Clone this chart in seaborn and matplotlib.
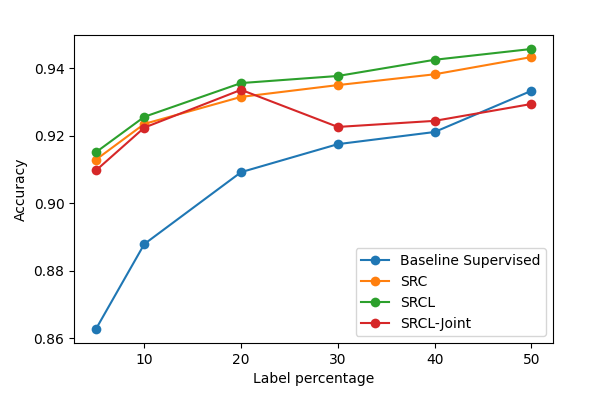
import pandas as pd
import numpy as np
import matplotlib
matplotlib.use('Agg')
import matplotlib.pyplot as plt
import seaborn as sns

label_pct = [5, 10, 20, 30, 40, 50]
baseline = [0.8627, 0.8879, 0.9092, 0.9175, 0.9211, 0.9333]
src = [0.9129, 0.9235, 0.9315, 0.9350, 0.9382, 0.9433]
srcl = [0.9151, 0.9256, 0.9356, 0.9377, 0.9425, 0.9457]
srcl_joint = [0.9097, 0.9224, 0.9336, 0.9226, 0.9244, 0.9294]
methods = ['Baseline Supervised', 'SRC', 'SRCL', 'SRCL-Joint']

df = pd.DataFrame({
    'Label percentage': label_pct * 4,
    'Accuracy': baseline + src + srcl + srcl_joint,
    'method': np.repeat(methods, len(label_pct)),
})

fig, ax = plt.subplots(figsize=(5.98, 3.93), dpi=100)
sns.lineplot(data=df, x='Label percentage', y='Accuracy', hue='method',
             hue_order=methods, palette='tab10', marker='o', markersize=7,
             markeredgewidth=0, linewidth=1.5, ax=ax)
ax.set_xticks([10, 20, 30, 40, 50])
ax.set_yticks([0.86, 0.88, 0.90, 0.92, 0.94])
ax.legend(loc='lower right', title=None)
fig.subplots_adjust(left=0.124, right=0.925, top=0.911, bottom=0.127)
fig.savefig('out.png', dpi=100)
